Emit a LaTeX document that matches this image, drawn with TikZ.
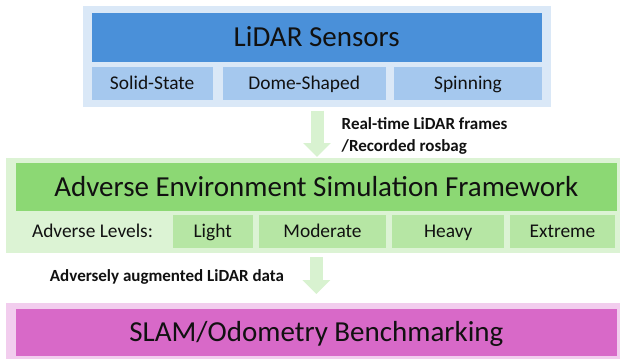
\documentclass[tikz,border=0pt]{standalone}
\usepackage{fontspec}
\setmainfont{Carlito}
\usetikzlibrary{arrows.meta}
\definecolor{bluebgc}{HTML}{DAE8F7}
\definecolor{bluedk}{HTML}{4A90D9}
\definecolor{bluesub}{HTML}{A5C8EE}
\definecolor{greenbgc}{HTML}{DCF3D4}
\definecolor{greendk}{HTML}{8CD874}
\definecolor{greensub}{HTML}{B6E6A4}
\definecolor{pinkbgc}{HTML}{F2CDEE}
\definecolor{pinkdk}{HTML}{D869C8}
\definecolor{arrowc}{HTML}{D8F2D0}
\definecolor{txt}{HTML}{111111}
\begin{document}
\begin{tikzpicture}[x=1pt,y=-1pt,
  box/.style={draw=none,inner sep=0pt,outer sep=0pt,rectangle,text=txt},
  titlefont/.style={font=\fontsize{29}{34}\selectfont,text height=21.75pt,text depth=3.07pt},
  subfont/.style={font=\fontsize{19.4}{23}\selectfont,text height=14.55pt,text depth=2.06pt},
  labelfont/.style={font=\fontsize{17}{21.7}\selectfont\bfseries,text=txt},
  bigarrow/.style={draw=arrowc,line width=13pt,-{Triangle[width=27pt,length=14pt]}}]
\useasboundingbox (0,0) rectangle (620,359);
% LiDAR block
\node[box,fill=bluebgc,minimum width=468pt,minimum height=101pt] (bluebg) at (317,56.5) {};
\node[box,fill=bluedk,titlefont,minimum width=450pt,minimum height=49pt] (lidar) at (316.7,37.5) {LiDAR Sensors};
\node[box,fill=bluesub,subfont,minimum width=121pt,minimum height=33pt] (solid) at (152.2,83.5) {Solid-State};
\node[box,fill=bluesub,subfont,minimum width=163pt,minimum height=33pt] (dome) at (304.2,83.5) {Dome-Shaped};
\node[box,fill=bluesub,subfont,minimum width=147.4pt,minimum height=33pt] (spin) at (468,83.5) {Spinning};
% Simulation block
\node[box,fill=greenbgc,minimum width=614pt,minimum height=95pt] (greenbg) at (313,205.8) {};
\node[box,fill=greendk,titlefont,minimum width=600.7pt,minimum height=48pt] (sim) at (316.35,186.7) {Adverse Environment Simulation Framework};
\node[box,subfont] (levels) at (92.5,231.7) {Adverse Levels:};
\node[box,fill=greensub,subfont,minimum width=80pt,minimum height=33.3pt] (light) at (212.7,231.7) {Light};
\node[box,fill=greensub,subfont,minimum width=127pt,minimum height=33.3pt] (moderate) at (322.5,231.7) {Moderate};
\node[box,fill=greensub,subfont,minimum width=111.7pt,minimum height=33.3pt] (heavy) at (448.2,231.7) {Heavy};
\node[box,fill=greensub,subfont,minimum width=105pt,minimum height=33.3pt] (extreme) at (562.5,231.7) {Extreme};
% SLAM block
\node[box,fill=pinkbgc,minimum width=614pt,minimum height=56pt] (pinkbg) at (313,331.3) {};
\node[box,fill=pinkdk,titlefont,minimum width=600.7pt,minimum height=47pt] (slam) at (316.35,332.3) {SLAM/Odometry Benchmarking};
% arrows
\draw[bigarrow,shorten <=3.7pt,shorten >=1.3pt] (bluebg.south) -- (bluebg.south |- greenbg.north);
\draw[bigarrow,shorten <=4pt,shorten >=9.3pt] (sim.south |- greenbg.south) -- (sim.south |- pinkbg.north);
% labels
\node[box,labelfont,anchor=west,align=left] (lbl1) at (341.7,135.8) {Real-time LiDAR frames\\/Recorded rosbag};
\node[box,labelfont] (lbl2) at (167,276.7) {Adversely augmented LiDAR data};
\end{tikzpicture}
\end{document}
